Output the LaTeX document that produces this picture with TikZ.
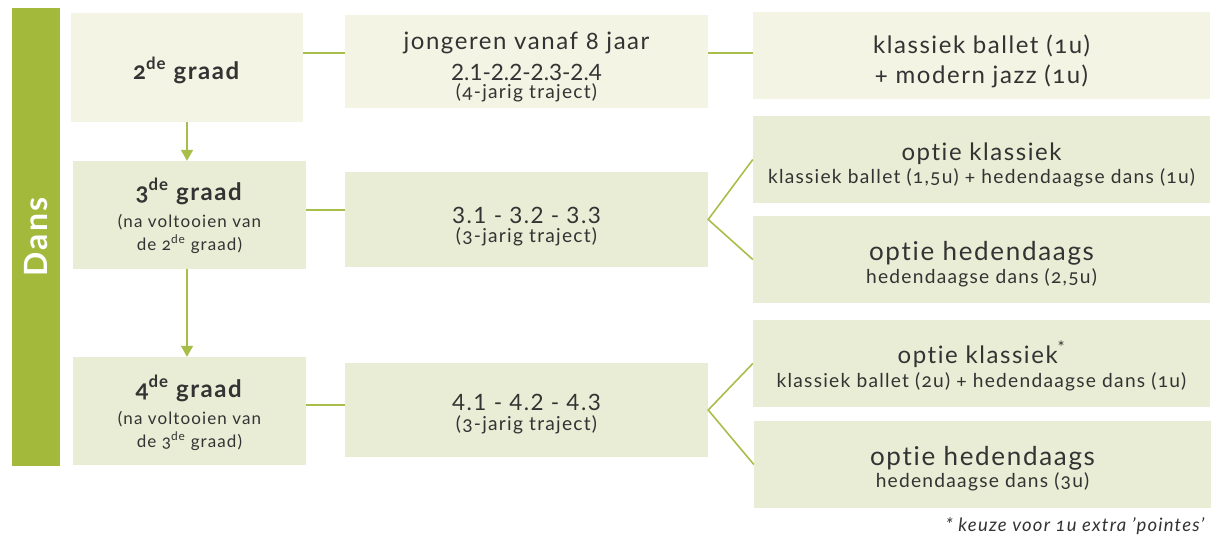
\documentclass[tikz,border=0pt]{standalone}
\usepackage{fontspec}
\setmainfont[LetterSpace=6.5,Ligatures=CommonOff,Numbers=OldStyle]{Lato}
\usepackage{tikz}
\usetikzlibrary{arrows.meta}
\usepackage{xcolor}
\definecolor{dansgroen}{HTML}{A3B93C}
\definecolor{lijngroen}{HTML}{A8BE4A}
\definecolor{vaklicht}{HTML}{F3F4E3}
\definecolor{vakdonker}{HTML}{E9EDD5}
\definecolor{tekstgrijs}{HTML}{333333}
\newcommand\grotetekst{\fontsize{24}{27}\selectfont}
\newcommand\koptekst{\fontsize{26}{27}\selectfont}
\newcommand\cijfertekst{\fontsize{22.5}{27}\selectfont\addfontfeatures{Numbers=Lining}}
\newcommand\kleinetekst{\fontsize{19.2}{27}\selectfont}
\newcommand\graadtekst{\fontsize{17}{27}\selectfont}
\newcommand\steun[2]{\rule[-#2]{0pt}{\dimexpr#1+#2\relax}}

\begin{document}
\begin{tikzpicture}[x=1pt,y=-1pt,
  vak/.style={fill=vakdonker, inner sep=0pt, align=center, text=tekstgrijs, font=\grotetekst},
  graad/.style={vak, minimum width=233, minimum height=108},
  traject/.style={vak, minimum width=363, minimum height=94},
  optie/.style={vak, minimum width=457, minimum height=87},
  lijn/.style={draw=lijngroen, line width=1.6pt}]
\useasboundingbox (0,0) rectangle (1223,551);
\node [fill=dansgroen, minimum width=48, minimum height=458, inner sep=0pt] (dans) at (36,237) {};
\node [rotate=90, text=white, font=\fontsize{32}{34}\selectfont\bfseries] at (dans.center) {Dans};
\node [graad, fill=vaklicht, minimum width=232, minimum height=109] (g2) at (187,67.5) {\steun{30pt}{7pt}\textbf{2\textsuperscript{de} graad}};
\node [graad] (g3) at (189.5,215) {\steun{26pt}{0pt}\textbf{3\textsuperscript{de} graad}\\{\graadtekst(na voltooien van}\\[-4pt]{\graadtekst de 2\textsuperscript{de} graad)}\steun{0pt}{6pt}};
\node [graad] (g4) at (189.5,411) {\steun{28pt}{0pt}\textbf{4\textsuperscript{de} graad}\\{\graadtekst(na voltooien van}\\[-4pt]{\graadtekst de 3\textsuperscript{de} graad)}\steun{0pt}{6pt}};
\node [traject, fill=vaklicht, minimum height=93] (m1) at (526.5,61.5) {\steun{31pt}{0pt}jongeren vanaf 8 jaar\\[5pt]{\cijfertekst\addfontfeatures{LetterSpace=0} 2.1-2.2-2.3-2.4}\\[-9pt]{\kleinetekst(4-jarig traject)}\steun{0pt}{6pt}};
\node [traject, minimum height=95] (m2) at (526.5,219.5) {\steun{32pt}{0pt}{\cijfertekst 3.1 - 3.2 - 3.3}\\[-8pt]{\kleinetekst(3-jarig traject)}\steun{0pt}{6pt}};
\node [traject] (m3) at (526.5,410) {\steun{26pt}{0pt}{\cijfertekst 4.1 - 4.2 - 4.3}\\[-7pt]{\kleinetekst(3-jarig traject)}\steun{0pt}{6pt}};
\node [optie, fill=vaklicht] (o1) at (981.5,55.5) {\steun{32pt}{0pt}klassiek ballet (1u)\\[2pt]+ modern jazz (1u)\steun{0pt}{6pt}};
\node [optie] (o2) at (981.5,159.5) {\steun{30pt}{0pt}optie klassiek\\[-4pt]{\kleinetekst klassiek ballet (1,5u) + hedendaagse dans (1u)}\steun{0pt}{6pt}};
\node [optie] (o3) at (981.5,259.5) {\steun{30pt}{0pt}{\koptekst optie hedendaags}\\[-4pt]{\kleinetekst hedendaagse dans (2,5u)}\steun{0pt}{6pt}};
\node [optie] (o4) at (981.5,363.5) {\steun{29pt}{0pt}optie klassiek\textsuperscript{*}\\[-3pt]{\kleinetekst klassiek ballet (2u) + hedendaagse dans (1u)}\steun{0pt}{6pt}};
\node [optie] (o5) at (982.5,464.5) {\steun{29pt}{0pt}{\koptekst optie hedendaags}\\[-5pt]{\kleinetekst hedendaagse dans (3u)}\steun{0pt}{6pt}};
\node [anchor=east, text=tekstgrijs, font=\fontsize{18.5}{20}\selectfont\itshape] (voetnoot) at (1208,526) {* keuze voor 1u extra 'pointes'};
\coordinate (rij1) at (0,53);
\coordinate (rij2) at (0,210);
\coordinate (rij3) at (0,405);
\draw [lijn] (g2.east |- rij1) -- (m1.west |- rij1);
\draw [lijn] (m1.east |- rij1) -- (o1.west |- rij1);
\draw [lijn] (g3.east |- rij2) -- (m2.west |- rij2);
\draw [lijn] (g4.east |- rij3) -- (m3.west |- rij3);
\draw [lijn] (o2.west) -- (m2.east) -- (o3.west);
\draw [lijn] (o4.west) -- (m3.east) -- (o5.west);
\draw [lijn, -{Triangle[width=12pt,length=11pt]}] (g2.south) -- (g2.south |- g3.north);
\draw [lijn, -{Triangle[width=12pt,length=11pt]}] (g2.south |- g3.south) -- (g2.south |- g4.north);
\end{tikzpicture}
\end{document}
